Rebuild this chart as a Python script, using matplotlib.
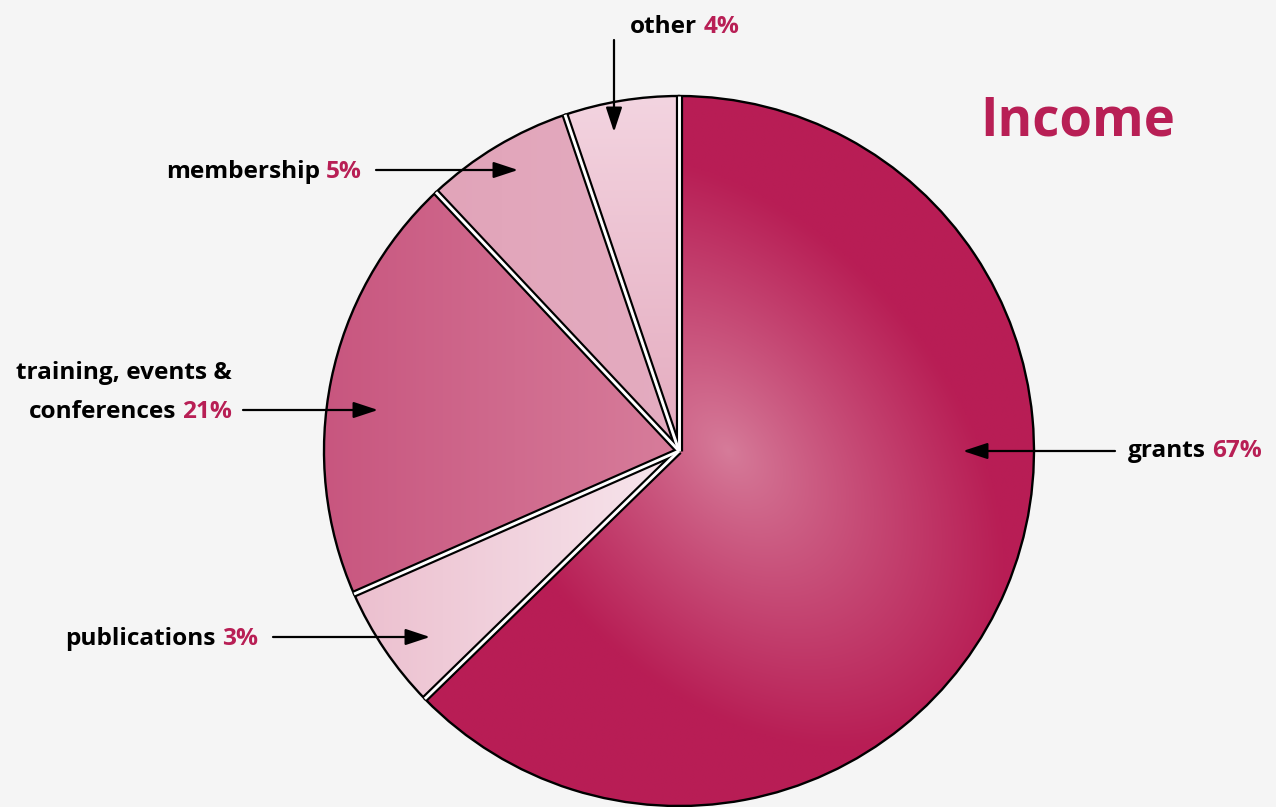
import matplotlib
matplotlib.use('Agg')
from matplotlib import pyplot as plt
import numpy as np

# data
categories = ['grants', 'publications', 'training, events & conferences', 'membership', 'other']
pct_labels = [67, 3, 21, 5, 4]
# the wedges as drawn are not quite the printed percentages
drawn_share = [62.7, 5.7, 19.6, 6.8, 5.2]

crimson = '#b81f55'
bg = '#f5f5f5'

# pie centre / radius in pixels of the 1276x807 picture
cx, cy, R = 679, 451, 355
W, H = 1276, 807

fig = plt.figure(figsize=(W / 100, H / 100), dpi=100, facecolor=bg)
ax = fig.add_axes([0, 0, 1, 1])
ax.set_facecolor(bg)

wedges, _ = ax.pie(drawn_share, startangle=90, counterclock=False, radius=1,
                   wedgeprops=dict(edgecolor='black', linewidth=1.7, facecolor='none', zorder=2))


def rgb(c):
    return np.array(c, dtype=float) / 255


N = 500
gx, gy = np.meshgrid(np.linspace(-1, 1, N), np.linspace(-1, 1, N))

# grants: elongated radial gradient, light spot a bit right of the centre
ang = np.deg2rad(-50)
u = (gx - 0.14) * np.cos(ang) + (gy - 0.0) * np.sin(ang)
v = -(gx - 0.14) * np.sin(ang) + (gy - 0.0) * np.cos(ang)
d = np.hypot(u / 0.95, v / 0.62)
t = np.clip(d, 0, 1)[..., None] ** 0.9
img_grants = rgb((214, 124, 154)) + (rgb((184, 30, 85)) - rgb((214, 124, 154))) * t


def hgrad(left, right):
    s = np.clip(gx + 1, 0, 1)[..., None]
    return rgb(left) + (rgb(right) - rgb(left)) * s


def vgrad(bottom, top):
    s = np.clip(gy, 0, 1)[..., None]
    return rgb(bottom) + (rgb(top) - rgb(bottom)) * s


images = [
    img_grants,
    hgrad((235, 188, 204), (247, 230, 237)),
    hgrad((200, 86, 127), (215, 125, 155)),
    hgrad((224, 160, 182), (228, 172, 192)),
    vgrad((228, 170, 190), (243, 212, 224)),
]

for w, img in zip(wedges, images):
    im = ax.imshow(img, extent=(-1, 1, -1, 1), origin='lower', zorder=1,
                   interpolation='bilinear')
    im.set_clip_path(w)

# black-white-black separators between the wedges
for w in wedges:
    a = np.deg2rad(w.theta1)
    xs = [0, np.cos(a)]
    ys = [0, np.sin(a)]
    ax.plot(xs, ys, color='black', linewidth=5.2, solid_capstyle='butt', zorder=3)
    ax.plot(xs, ys, color='white', linewidth=2.1, solid_capstyle='butt', zorder=4)

ax.set_xlim((0 - cx) / R, (W - cx) / R)
ax.set_ylim((cy - H) / R, cy / R)
ax.set_aspect('auto')
ax.axis('off')

font = dict(family=['Open Sans', 'DejaVu Sans'], fontsize=17.6, fontweight='bold')


def fp(x, y):
    # picture pixels (top-left origin) -> figure pixels
    return (x, H - y)


def label(name, pct, x, y, side):
    if side == 'right':
        p = ax.annotate(f'{pct}%', xy=fp(x, y), xycoords='figure pixels', ha='right',
                        va='baseline', color=crimson, **font)
        ax.annotate(name, xy=(0, 0), xycoords=p, xytext=(-4.5, 0), textcoords='offset points',
                    ha='right', va='bottom', color='black', **font)
    else:
        n = ax.annotate(name, xy=fp(x, y), xycoords='figure pixels', ha='left',
                        va='baseline', color='black', **font)
        ax.annotate(f'{pct}%', xy=(1, 0), xycoords=n, xytext=(4.5, 0), textcoords='offset points',
                    ha='left', va='bottom', color=crimson, **font)


def arrow(tail, tip):
    ax.annotate('', xy=fp(*tip), xycoords='figure pixels', xytext=fp(*tail),
                textcoords='figure pixels',
                arrowprops=dict(arrowstyle='-|>,head_length=1.0,head_width=0.33',
                                color='black', lw=1.6, mutation_scale=15,
                                shrinkA=0, shrinkB=0))


label('grants', pct_labels[0], 1128, 457, 'left')
arrow((1115, 451), (963, 451))

label('publications', pct_labels[1], 258, 645, 'right')
arrow((273, 637), (430, 637))

ax.annotate('training, events &', xy=fp(232, 379), xycoords='figure pixels', ha='right',
            va='baseline', color='black', **font)
label('conferences', pct_labels[2], 232, 418, 'right')
arrow((243, 410), (378, 410))

label('membership', pct_labels[3], 362, 178, 'right')
arrow((376, 170), (518, 170))

label('other', pct_labels[4], 630, 33, 'left')
arrow((614, 40), (614, 132))

ax.annotate('Income', xy=fp(1078, 135), xycoords='figure pixels', ha='center', va='baseline',
            color=crimson, family=['Open Sans', 'DejaVu Sans'], fontsize=38, fontweight='bold')

plt.savefig('out.png', dpi=100, facecolor=bg)
